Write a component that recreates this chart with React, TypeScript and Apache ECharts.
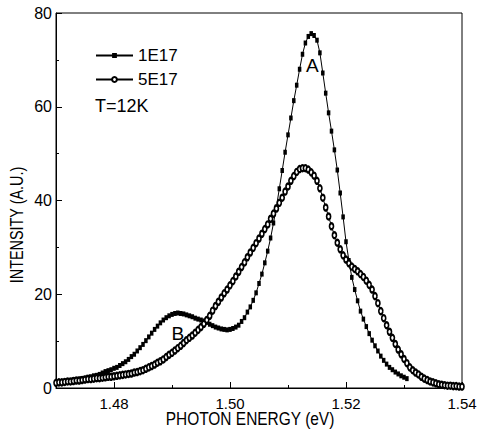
import React, { useEffect, useRef } from 'react';
import * as echarts from 'echarts';

const energies = [
  1.4700, 1.4705, 1.4710, 1.4715, 1.4720, 1.4725, 1.4730, 1.4735, 1.4740, 1.4745,
  1.4750, 1.4755, 1.4760, 1.4765, 1.4770, 1.4775, 1.4780, 1.4785, 1.4790, 1.4795,
  1.4800, 1.4805, 1.4810, 1.4815, 1.4820, 1.4825, 1.4830, 1.4835, 1.4840, 1.4845,
  1.4850, 1.4855, 1.4860, 1.4865, 1.4870, 1.4875, 1.4880, 1.4885, 1.4890, 1.4895,
  1.4900, 1.4905, 1.4910, 1.4915, 1.4920, 1.4925, 1.4930, 1.4935, 1.4940, 1.4945,
  1.4950, 1.4955, 1.4960, 1.4965, 1.4970, 1.4975, 1.4980, 1.4985, 1.4990, 1.4995,
  1.5000, 1.5005, 1.5010, 1.5015, 1.5020, 1.5025, 1.5030, 1.5035, 1.5040, 1.5045,
  1.5050, 1.5055, 1.5060, 1.5065, 1.5070, 1.5075, 1.5080, 1.5085, 1.5090, 1.5095,
  1.5100, 1.5105, 1.5110, 1.5115, 1.5120, 1.5125, 1.5130, 1.5135, 1.5140, 1.5145,
  1.5150, 1.5155, 1.5160, 1.5165, 1.5170, 1.5175, 1.5180, 1.5185, 1.5190, 1.5195,
  1.5200, 1.5205, 1.5210, 1.5215, 1.5220, 1.5225, 1.5230, 1.5235, 1.5240, 1.5245,
  1.5250, 1.5255, 1.5260, 1.5265, 1.5270, 1.5275, 1.5280, 1.5285, 1.5290, 1.5295,
  1.5300, 1.5305, 1.5310, 1.5315, 1.5320, 1.5325, 1.5330, 1.5335, 1.5340, 1.5345,
  1.5350, 1.5355, 1.5360, 1.5365, 1.5370, 1.5375, 1.5380, 1.5385, 1.5390, 1.5395,
  1.5400,
];

const intensity1E17 = [
  1.1, 1.2, 1.3, 1.4, 1.5, 1.6, 1.7, 1.8, 1.9, 2.0,
  2.1, 2.3, 2.4, 2.6, 2.7, 2.9, 3.2, 3.5, 3.7, 3.9,
  4.2, 4.4, 4.8, 5.2, 5.6, 6.1, 6.7, 7.2, 7.9, 8.6,
  9.3, 10.1, 10.9, 11.7, 12.5, 13.2, 13.9, 14.5, 15.0, 15.4,
  15.7, 15.9, 16.0, 15.9, 15.8, 15.6, 15.4, 15.2, 14.9, 14.7,
  14.5, 14.3, 14.0, 13.6, 13.3, 13.0, 12.8, 12.6, 12.5, 12.4,
  12.5, 12.7, 13.0, 13.4, 14.2, 15.0, 16.2, 17.3, 18.7, 20.3,
  22.3, 24.3, 26.7, 29.2, 32.0, 35.2, 38.6, 42.5, 46.4, 50.3,
  54.0, 57.6, 61.3, 64.6, 68.0, 71.2, 73.6, 75.0, 75.6, 75.2,
  74.2, 71.5, 67.2, 62.9, 58.7, 54.8, 50.8, 46.5, 41.6, 36.5,
  31.2, 27.2, 23.6, 21.0, 18.6, 16.4, 14.7, 13.1, 11.6, 10.2,
  9.0, 7.9, 6.8, 5.9, 5.1, 4.4, 3.9, 3.4, 3.0, 2.6,
  2.3, 2.0,
];

const intensity5E17 = [
  1.1, 1.2, 1.2, 1.3, 1.4, 1.4, 1.5, 1.6, 1.6, 1.7,
  1.8, 1.9, 1.9, 2.0, 2.1, 2.1, 2.2, 2.3, 2.4, 2.4,
  2.5, 2.6, 2.7, 2.8, 2.9, 3.0, 3.1, 3.3, 3.4, 3.6,
  3.8, 4.1, 4.4, 4.7, 5.0, 5.4, 5.7, 6.1, 6.6, 7.1,
  7.5, 8.0, 8.5, 9.0, 9.6, 10.2, 10.7, 11.2, 11.8, 12.4,
  13.0, 13.7, 14.5, 15.4, 16.5, 17.5, 18.4, 19.3, 20.2, 21.0,
  21.9, 22.8, 23.8, 24.8, 25.8, 26.8, 27.9, 28.9, 29.9, 30.9,
  31.9, 32.9, 33.9, 34.9, 36.1, 37.2, 38.3, 39.5, 40.6, 41.9,
  43.0, 44.2, 45.2, 46.1, 46.7, 46.9, 46.9, 46.6, 46.0, 45.3,
  44.2, 42.6, 40.6, 38.5, 36.6, 34.5, 32.6, 31.0, 29.6, 28.3,
  27.4, 26.6, 25.9, 25.4, 24.9, 24.3, 23.7, 22.9, 22.0, 21.0,
  19.6, 18.1, 16.4, 14.9, 13.4, 12.0, 10.7, 9.4, 8.2, 7.2,
  6.2, 5.3, 4.4, 3.8, 3.3, 2.9, 2.4, 2.0, 1.7, 1.4,
  1.2, 1.0, 0.8, 0.7, 0.6, 0.5, 0.5, 0.4, 0.4, 0.3,
  0.3,
];

const seriesNames = ['1E17', '5E17'];
const annotationLabels = ['A', 'B'];
const annotationEnergy = [1.5142, 1.491];
const annotationIntensity = [68.9, 11.6];
const temperatureText = 'T=12K';
const xTitle = 'PHOTON ENERGY (eV)';
const yTitle = 'INTENSITY (A.U.)';

export default function App() {
  const ref = useRef<HTMLDivElement>(null);

  useEffect(() => {
    const chart = echarts.init(ref.current!, null, { renderer: 'svg' });
    const regular = "'Liberation Sans', Arial, sans-serif";
    const data1 = intensity1E17.map((v, i) => [energies[i], v]);
    const data2 = intensity5E17.map((v, i) => [energies[i], v]);

    chart.setOption({
      animation: false,
      backgroundColor: '#ffffff',
      grid: {
        left: 56,
        right: 15,
        top: 13,
        bottom: 47,
        show: true,
        borderColor: '#000',
        borderWidth: 1,
        backgroundColor: 'transparent',
        containLabel: false,
        outerBoundsMode: 'none',
      },
      legend: {
        show: true,
        orient: 'vertical',
        left: 90,
        top: 42,
        itemWidth: 37,
        itemHeight: 6,
        itemGap: 7,
        selectedMode: false,
        data: seriesNames,
        textStyle: { fontSize: 17, fontFamily: regular, color: '#000' },
      },
      xAxis: [
        {
          type: 'value',
          min: 1.47,
          max: 1.54,
          splitNumber: 4,
          minInterval: 0.02,
          maxInterval: 0.02,
          axisLine: { show: true, lineStyle: { color: '#000', width: 1 } },
          axisTick: { show: true, inside: true, length: 6, lineStyle: { color: '#000' } },
          axisLabel: {
            show: true,
            showMinLabel: false,
            margin: 8,
            color: '#000',
            fontSize: 15,
            fontFamily: regular,
            formatter: (v: number) => v.toFixed(2),
          },
          splitLine: { show: false },
        },
        {
          type: 'value',
          min: 1.47,
          max: 1.54,
          interval: 0.01,
          position: 'bottom',
          axisLine: { show: false },
          axisTick: { show: true, inside: true, length: 3, lineStyle: { color: '#000' } },
          axisLabel: { show: false },
          splitLine: { show: false },
        },
      ],
      yAxis: {
        type: 'value',
        min: 0,
        max: 80,
        interval: 20,
        axisLine: { show: true, lineStyle: { color: '#000', width: 1 } },
        axisTick: { show: true, inside: true, length: 6, lineStyle: { color: '#000' } },
        minorTick: { show: true, splitNumber: 2, length: 3, lineStyle: { color: '#000' } },
        axisLabel: { margin: 4, color: '#000', fontSize: 16, fontFamily: regular },
        splitLine: { show: false },
        minorSplitLine: { show: false },
      },
      series: [
        {
          name: seriesNames[0],
          type: 'line',
          data: data1,
          symbol: 'rect',
          symbolSize: [3.5, 5],
          showSymbol: true,
          lineStyle: { color: '#000', width: 1 },
          itemStyle: { color: '#000' },
          z: 2,
          markPoint: {
            silent: true,
            symbol: 'circle',
            symbolSize: 1,
            itemStyle: { color: 'rgba(0,0,0,0)' },
            label: {
              show: true,
              position: 'inside',
              formatter: '{b}',
              color: '#000',
              fontSize: 19,
              fontFamily: regular,
            },
            data: annotationLabels.map((t, i) => ({
              name: t,
              coord: [annotationEnergy[i], annotationIntensity[i]],
            })),
          },
        },
        {
          name: seriesNames[1],
          type: 'line',
          data: data2,
          symbol: 'emptyCircle',
          symbolSize: [4, 6],
          showSymbol: true,
          lineStyle: { color: '#000', width: 1 },
          itemStyle: { color: '#000', borderColor: '#000', borderWidth: 0.9 },
          z: 3,
        },
      ],
      graphic: [
        {
          type: 'text',
          x: 95,
          y: 106,
          style: {
            text: temperatureText,
            fontSize: 18,
            fontFamily: regular,
            fill: '#000',
            align: 'left',
            verticalAlign: 'middle',
          },
        },
        {
          type: 'text',
          x: 250,
          y: 419,
          scaleX: 0.86,
          style: {
            text: xTitle,
            fontSize: 18,
            fontFamily: regular,
            fill: '#000',
            align: 'center',
            verticalAlign: 'middle',
          },
        },
        {
          type: 'text',
          x: 16,
          y: 225,
          rotation: Math.PI / 2,
          scaleX: 0.8,
          style: {
            text: yTitle,
            fontSize: 18,
            fontFamily: regular,
            fill: '#000',
            align: 'center',
            verticalAlign: 'middle',
          },
        },
      ],
    });

    return () => chart.dispose();
  }, []);

  return (
    <div
      ref={ref}
      style={{ position: 'fixed', left: 0, top: 0, width: 477, height: 435, background: '#fff' }}
    />
  );
}
